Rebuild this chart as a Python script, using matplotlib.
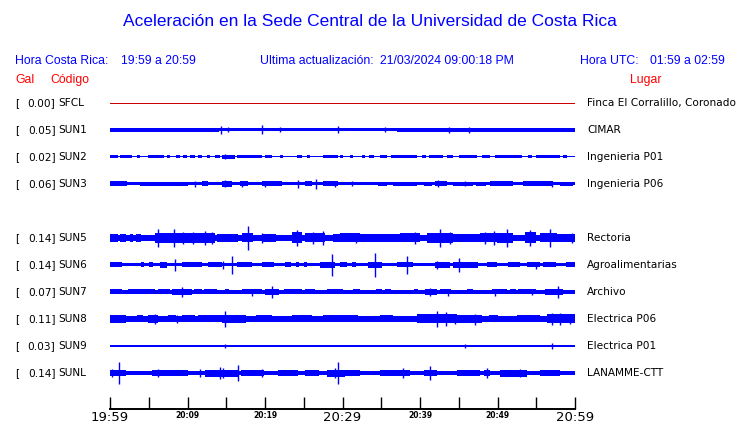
import matplotlib
matplotlib.use('Agg')
import matplotlib.pyplot as plt

W, H = 740, 423
BLUE = '#0000ff'
RED = '#ff0000'

# station info, top to bottom (SUN4 slot is empty)
codes = ['SFCL', 'SUN1', 'SUN2', 'SUN3', 'SUN5', 'SUN6', 'SUN7', 'SUN8', 'SUN9', 'SUNL']
slots = [0, 1, 2, 3, 5, 6, 7, 8, 9, 10]
gal = ['0.00', '0.05', '0.02', '0.06', '0.14', '0.14', '0.07', '0.11', '0.03', '0.14']
places = ['Finca El Corralillo, Coronado', 'CIMAR', 'Ingenieria P01', 'Ingenieria P06',
          'Rectoria', 'Agroalimentarias', 'Archivo', 'Electrica P06', 'Electrica P01',
          'LANAMME-CTT']

# trace envelopes; amplitude 27 = one row spacing
# base half amplitude for the whole hour
base = [0.0, 1.5, 0.5, 1.5, 3.0, 1.5, 1.6, 2.5, 1.3, 1.8]

# noisier stretches: (start min, end min, half amplitude)
bursts = [
    [],
    [(0.0, 14.0, 1.6), (37.0, 60.0, 1.7)],
    [(0.0, 1.0, 1.5), (1.3, 2.8, 1.5), (3.5, 3.9, 1.5), (4.9, 7.0, 1.5), (7.4, 7.7, 1.5),
     (8.5, 9.0, 1.5), (9.4, 9.9, 1.5), (10.3, 11.0, 1.5), (11.4, 11.9, 1.5), (12.5, 12.9, 1.5),
     (13.6, 14.2, 1.5), (14.5, 16.1, 1.7), (16.4, 19.6, 1.5), (20.0, 20.9, 1.5), (21.9, 22.3, 1.5),
     (24.1, 24.8, 1.5), (25.4, 25.8, 1.5), (27.5, 29.4, 1.5), (29.7, 30.1, 1.5), (31.0, 31.4, 1.5),
     (32.5, 32.9, 1.5), (33.4, 34.1, 1.5), (34.8, 35.7, 1.5), (36.2, 39.6, 1.5), (40.2, 40.8, 1.5),
     (41.2, 43.0, 1.5), (43.5, 44.3, 1.5), (45.0, 47.3, 1.5), (48.0, 49.0, 1.5), (49.7, 53.2, 1.5),
     (53.9, 54.5, 1.5), (55.0, 58.0, 1.5), (58.5, 59.0, 1.5)],
    [(0.0, 2.2, 2.5), (3.9, 10.0, 2.2), (11.9, 12.7, 2.5), (14.4, 15.7, 2.6), (16.8, 17.8, 2.5),
     (19.6, 22.2, 2.5), (25.2, 26.0, 2.5), (27.5, 29.4, 2.5), (34.6, 35.7, 2.3), (36.5, 39.6, 2.3),
     (40.5, 41.5, 2.3), (41.9, 43.5, 2.5), (44.3, 46.8, 2.4), (47.2, 48.5, 2.3), (49.0, 52.0, 2.5),
     (53.3, 57.2, 2.5), (58.0, 59.8, 2.4)],
    [(0.0, 1.0, 4.0), (1.3, 2.1, 3.8), (2.6, 3.0, 3.6), (3.3, 4.0, 3.8), (5.8, 8.0, 5.0),
     (8.0, 13.5, 5.0), (13.8, 16.5, 3.6), (17.0, 18.5, 4.5), (19.6, 21.4, 4.0), (23.5, 24.8, 5.5),
     (25.2, 27.7, 4.5), (28.8, 29.7, 4.0), (29.7, 32.3, 4.5), (32.3, 37.4, 3.6), (37.4, 40.0, 4.5),
     (40.9, 44.3, 5.0), (44.3, 47.7, 4.0), (47.7, 49.9, 4.5), (49.9, 52.0, 5.0), (53.5, 55.0, 5.5),
     (55.5, 57.7, 4.5), (57.7, 60.0, 4.0)],
    [(0.0, 1.5, 2.5), (4.0, 4.4, 2.5), (5.0, 5.6, 2.5), (6.5, 7.4, 3.0), (9.3, 11.9, 2.5),
     (12.6, 14.4, 2.5), (16.4, 18.3, 2.5), (19.6, 21.2, 2.5), (22.6, 23.4, 2.5), (24.0, 24.4, 2.5),
     (25.0, 25.4, 2.5), (27.1, 29.0, 3.0), (29.7, 30.6, 2.5), (31.2, 31.8, 2.5), (33.3, 35.1, 3.0),
     (37.0, 39.1, 2.5), (41.9, 43.9, 3.0), (44.3, 47.5, 3.0), (48.6, 49.9, 2.5), (51.4, 52.9, 2.5),
     (53.8, 55.5, 2.5), (55.9, 57.6, 2.5), (58.9, 60.0, 2.5)],
    [(0.0, 1.5, 2.5), (2.3, 5.8, 2.5), (6.2, 7.7, 2.5), (8.0, 10.6, 3.0), (10.9, 11.9, 2.5),
     (12.1, 13.8, 2.5), (14.8, 15.4, 2.5), (17.0, 19.6, 2.5), (20.0, 21.8, 3.0), (22.5, 24.8, 2.5),
     (25.2, 26.4, 2.5), (28.0, 29.7, 2.5), (29.7, 30.1, 2.5), (31.4, 32.3, 2.5), (34.3, 35.1, 2.5),
     (35.5, 36.3, 2.5), (39.2, 39.8, 2.5), (40.6, 42.2, 3.0), (42.6, 44.0, 2.5), (46.0, 46.8, 2.5),
     (49.3, 51.2, 2.5), (51.6, 52.4, 2.5), (52.6, 55.0, 2.5), (56.1, 58.5, 3.0)],
    [(0.0, 2.1, 4.0), (3.5, 4.3, 3.5), (4.9, 6.2, 4.0), (7.5, 8.5, 3.5), (9.3, 11.0, 3.5),
     (11.4, 14.4, 3.5), (14.4, 17.5, 4.0), (18.8, 20.9, 3.5), (23.5, 26.0, 3.5), (27.5, 30.3, 3.5),
     (30.3, 32.0, 3.5), (34.8, 36.5, 3.5), (39.6, 44.8, 4.5), (44.8, 48.0, 4.0), (48.9, 50.1, 3.5),
     (52.5, 55.5, 3.5), (56.4, 60.0, 4.5)],
    [],
    [(0.0, 2.1, 3.0), (2.1, 4.6, 2.2), (5.4, 10.0, 3.0), (12.3, 16.5, 3.5), (16.9, 19.9, 3.0),
     (21.7, 24.3, 3.0), (25.2, 27.0, 2.5), (28.0, 30.3, 3.5), (30.3, 32.3, 2.5), (34.8, 38.7, 3.0),
     (40.5, 42.2, 3.0), (44.8, 47.7, 3.0), (48.2, 49.0, 2.5), (50.3, 53.8, 3.5), (55.5, 58.0, 3.0)],
]

# single spikes: (minute, half amplitude)
spikes = [
    [],
    [(14.3, 4.0), (15.2, 2.5), (19.6, 4.5), (21.9, 2.5), (29.4, 3.5), (35.5, 2.5),
     (43.7, 3.0), (46.3, 3.0), (56.4, 1.5)],
    [(14.8, 2.5)],
    [(11.0, 3.0), (14.8, 3.5), (17.0, 3.0), (20.0, 3.0), (24.2, 4.0), (26.6, 5.0), (29.0, 3.0),
     (31.2, 2.5), (42.3, 3.5), (45.8, 2.5), (57.0, 3.0)],
    [(6.2, 9.0), (8.3, 9.0), (9.4, 6.0), (10.7, 6.0), (12.3, 7.0), (13.2, 6.0), (17.8, 12.0),
     (19.6, 5.0), (24.1, 8.0), (26.2, 6.0), (27.5, 7.0), (31.8, 5.0), (39.4, 6.0), (42.6, 9.0),
     (43.9, 6.0), (48.4, 6.0), (49.5, 7.0), (51.2, 9.0), (54.2, 8.0), (56.8, 9.0), (59.6, 5.0)],
    [(8.4, 6.0), (14.6, 4.0), (15.7, 9.0), (28.6, 10.5), (34.2, 12.0), (38.3, 9.0), (42.2, 4.0),
     (45.0, 7.0), (55.0, 3.5)],
    [(9.3, 5.0), (18.3, 3.5), (20.9, 6.0), (41.3, 4.0), (43.6, 3.5), (49.7, 3.5), (54.5, 3.0),
     (57.8, 6.0)],
    [(5.8, 5.0), (8.7, 4.5), (14.8, 8.0), (42.2, 8.0), (43.4, 7.0), (44.5, 5.0), (47.1, 5.5),
     (57.0, 6.0), (58.0, 6.0), (59.4, 5.0)],
    [(14.8, 2.0), (45.8, 2.0), (57.0, 2.5)],
    [(0.3, 4.0), (1.1, 11.5), (6.2, 4.0), (11.6, 4.0), (14.2, 6.0), (14.6, 5.0), (16.5, 8.0),
     (19.6, 4.0), (29.0, 5.0), (29.4, 11.5), (37.8, 5.0), (41.3, 7.0), (48.6, 5.0), (52.9, 4.0)],
]

tick_min = list(range(0, 61, 5))
tick_txt = ['19:59', '', '20:09', '', '20:19', '', '20:29', '', '20:39', '', '20:49', '', '20:59']
big_ticks = ['19:59', '20:29', '20:59']

ROW = 27.0  # amplitude units per row


def fx(x):
    return x / W


def fy(y):
    return 1 - y / H


fig = plt.figure(figsize=(W / 100, H / 100), dpi=100)
fig.patch.set_facecolor('white')

# axes: x 110..575 px, y 90..409 px
ax = fig.add_axes([fx(110), fy(409), (575 - 110) / W, (409 - 90) / H])
ax.set_xlim(0, 60)
ax.set_ylim((409 - 103) / ROW, -(103 - 90) / ROW)
ax.set_facecolor('none')

for i, code in enumerate(codes):
    r = slots[i]
    if i == 0:
        ax.plot([0, 60], [r, r], color='#cc0000', lw=0.5, antialiased=False)
    else:
        b = base[i] / ROW
        ax.fill_between([0, 60], r - b, r + b, color=BLUE, lw=0, antialiased=False)
        for t0, t1, h in bursts[i]:
            ax.fill_between([t0, t1], r - h / ROW, r + h / ROW, color=BLUE, lw=0,
                            antialiased=False)
        for t, h in spikes[i]:
            ax.vlines(t, r - h / ROW, r + h / ROW, color=BLUE, lw=1.0)

for s in ['top', 'left', 'right']:
    ax.spines[s].set_visible(False)
ax.spines['bottom'].set_linewidth(1.4)
ax.set_yticks([])
ax.set_xticks(tick_min)
ax.set_xticklabels(tick_txt)
ax.tick_params(axis='x', direction='in', length=9, width=1, pad=1.5)
for lab in ax.get_xticklabels():
    if lab.get_text() in big_ticks:
        lab.set_fontsize(9.5)
    else:
        lab.set_fontsize(5.5)
        lab.set_fontweight('bold')

# row labels
for i, code in enumerate(codes):
    y = 103 + ROW * slots[i]
    fig.text(fx(15), fy(y), '[', fontsize=7.6, va='center', ha='left')
    fig.text(fx(55.5), fy(y), gal[i] + ']', fontsize=7.6, va='center', ha='right')
    fig.text(fx(58.5), fy(y), code, fontsize=7.6, va='center', ha='left')
    fig.text(fx(587), fy(y), places[i], fontsize=7.6, va='center', ha='left')

# header
hf = 'Liberation Sans'
fig.text(0.5, fy(22), 'Aceleración en la Sede Central de la Universidad de Costa Rica',
         family=hf, fontsize=12.5, color=BLUE, ha='center', va='center')
fig.text(fx(15), fy(61), 'Hora Costa Rica:', family=hf, fontsize=8.8, color=BLUE, va='center')
fig.text(fx(121), fy(61), '19:59 a 20:59', family=hf, fontsize=8.8, color=BLUE, va='center')
fig.text(fx(260), fy(61), 'Ultima actualización:', family=hf, fontsize=8.8, color=BLUE, va='center')
fig.text(fx(380), fy(61), '21/03/2024 09:00:18 PM', family=hf, fontsize=8.8, color=BLUE, va='center')
fig.text(fx(580), fy(61), 'Hora UTC:', family=hf, fontsize=8.8, color=BLUE, va='center')
fig.text(fx(650), fy(61), '01:59 a 02:59', family=hf, fontsize=8.8, color=BLUE, va='center')
fig.text(fx(15), fy(80), 'Gal', family=hf, fontsize=8.8, color=RED, va='center')
fig.text(fx(50), fy(80), 'Código', family=hf, fontsize=8.8, color=RED, va='center')
fig.text(fx(630), fy(80), 'Lugar', family=hf, fontsize=8.8, color=RED, va='center')

fig.savefig('out.png', dpi=100)
